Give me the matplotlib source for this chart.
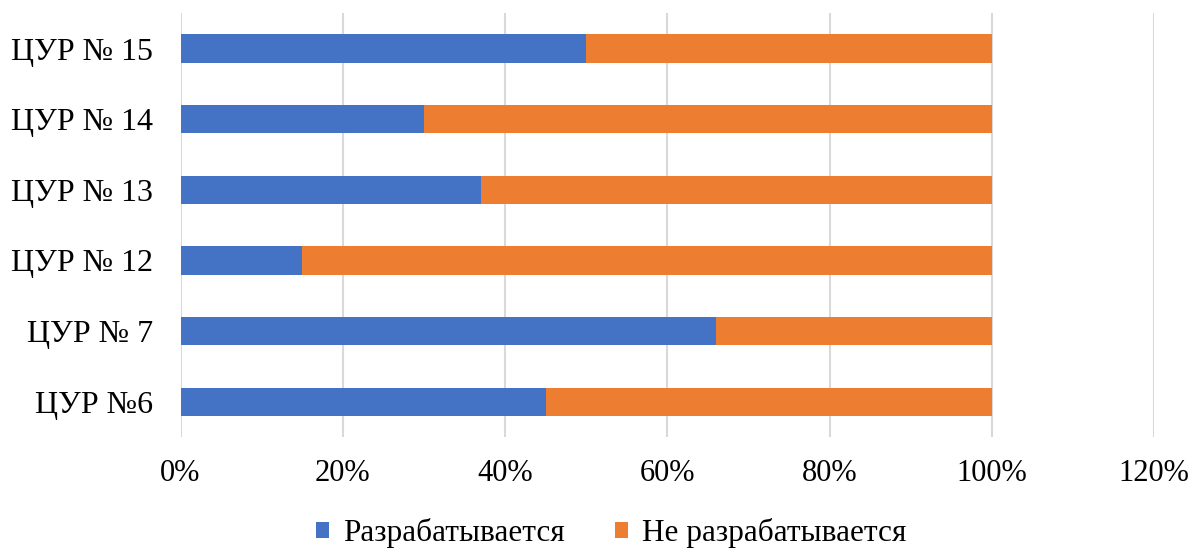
import matplotlib.pyplot as plt
from matplotlib.ticker import PercentFormatter

plt.rcParams['font.family'] = ['Liberation Serif', 'DejaVu Serif']

# data (bottom to top)
categories = ["ЦУР №6", "ЦУР № 7", "ЦУР № 12", "ЦУР № 13", "ЦУР № 14", "ЦУР № 15"]
developed = [0.45, 0.66, 0.15, 0.37, 0.30, 0.50]
not_developed = [0.55, 0.34, 0.85, 0.63, 0.70, 0.50]
series_names = ["Разрабатывается", "Не разрабатывается"]
x_ticks = [0, 0.2, 0.4, 0.6, 0.8, 1.0, 1.2]

blue = "#4472C4"
orange = "#ED7D31"

fig = plt.figure(figsize=(11.91, 5.51), dpi=100)
ax = fig.add_axes([0.1516, 0.207, 0.969 - 0.1516, 0.976 - 0.207])

y = range(len(categories))
ax.barh(y, developed, height=0.4, color=blue, label=series_names[0], zorder=3)
ax.barh(y, not_developed, left=developed, height=0.4, color=orange,
        label=series_names[1], zorder=3)

ax.set_xlim(0, 1.2)
ax.set_ylim(-0.5, len(categories) - 0.5)
ax.set_xticks(x_ticks)
ax.xaxis.set_major_formatter(PercentFormatter(1.0, decimals=0))
ax.set_yticks(list(y))
ax.set_yticklabels(categories)

ax.grid(axis='x', color='#d9d9d9', linewidth=1.5, zorder=0)
for s in ax.spines.values():
    s.set_visible(False)
ax.tick_params(axis='both', length=0, colors='black')
ax.tick_params(axis='x', pad=16, labelsize=22)
ax.tick_params(axis='y', pad=20, labelsize=23)

fig.legend(loc='center', bbox_to_anchor=(0.513, 0.032), ncol=2,
           frameon=False, fontsize=22.5, handlelength=0.42, handleheight=0.42,
           handletextpad=0.45, columnspacing=1.6, borderpad=0)

fig.savefig("out.png", dpi=100)
